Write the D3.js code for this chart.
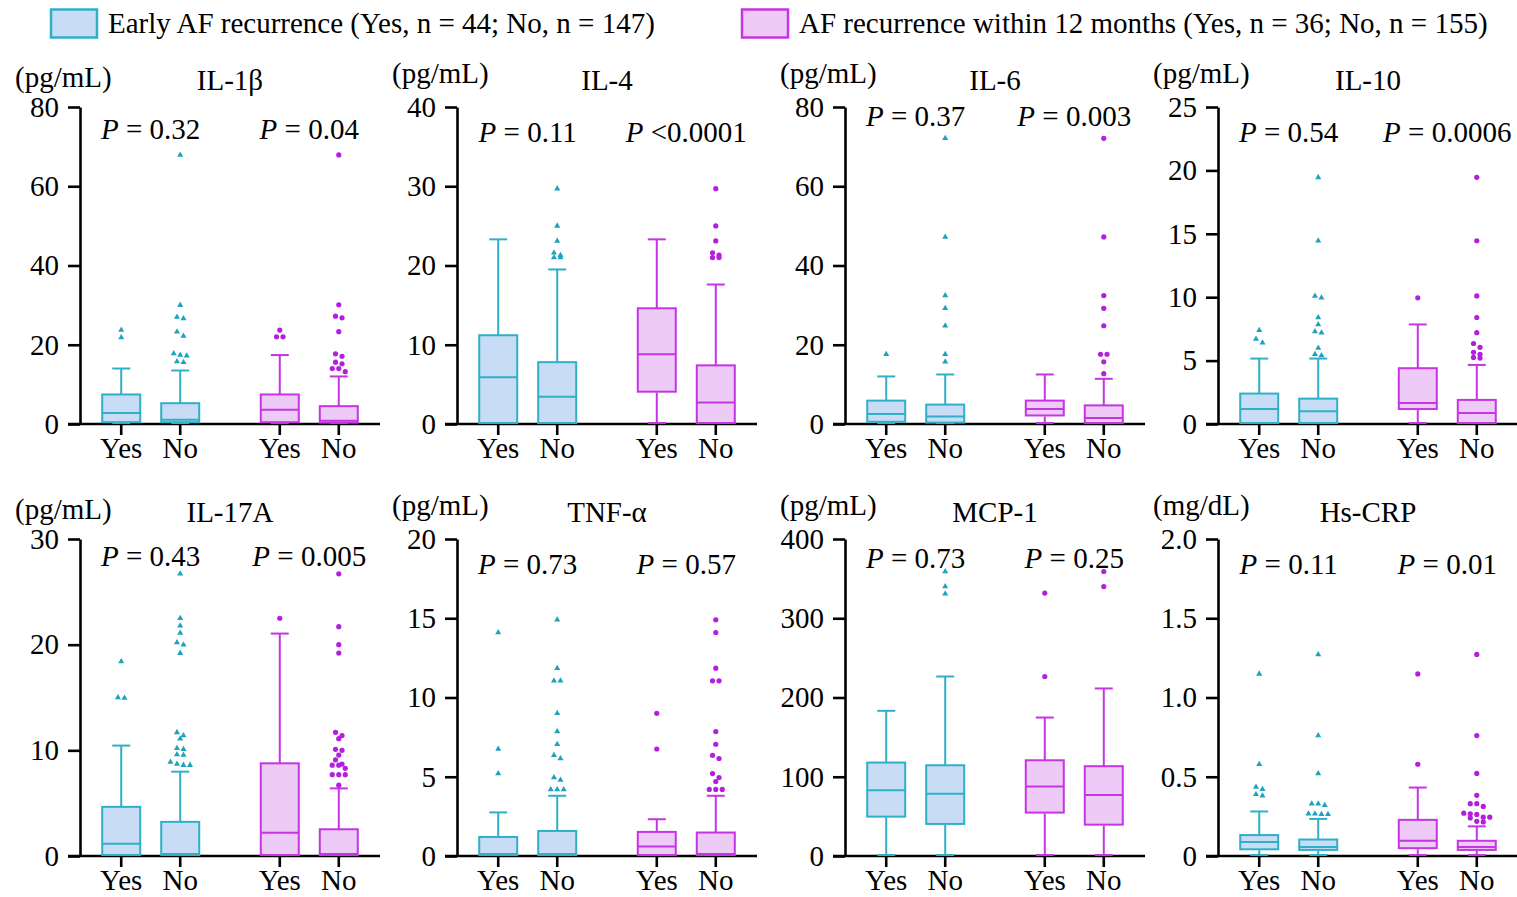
<!DOCTYPE html>
<html>
<head>
<meta charset="utf-8">
<script src="https://cdn.jsdelivr.net/npm/d3@7"></script>
<style>
  body { margin: 0; background: #fff; }
  text { font-family: "Liberation Serif", "Times New Roman", serif; fill: #000; }
</style>
</head>
<body>
<svg id="chart" width="1517" height="897"></svg>
<script>
// panel names, units and y ranges
var panelNames = ["IL-1β", "IL-4", "IL-6", "IL-10", "IL-17A", "TNF-α", "MCP-1", "Hs-CRP"];
var panelUnits = ["(pg/mL)", "(pg/mL)", "(pg/mL)", "(pg/mL)", "(pg/mL)", "(pg/mL)", "(pg/mL)", "(mg/dL)"];
var yMaxes = [80, 40, 80, 25, 30, 20, 400, 2.0];
var yTickSteps = [20, 10, 20, 5, 10, 5, 100, 0.5];
var groupLabels = ["Yes", "No"];
var cohorts = ["early", "m12"];
var pEarly = ["0.32", "0.11", "0.37", "0.54", "0.43", "0.73", "0.73", "0.11"];
var p12m = ["0.04", "<0.0001", "0.003", "0.0006", "0.005", "0.57", "0.25", "0.01"];
var legendLabels = ["Early AF recurrence (Yes, n = 44; No, n = 147)",
                    "AF recurrence within 12 months (Yes, n = 36; No, n = 155)"];

// box stats: [low whisker, Q1, median, Q3, high whisker]
// order: early Yes, early No, 12 months Yes, 12 months No
var il1bBoxes = [[0, 0.2, 2.8, 7.45, 14.0], [0, 0.2, 1.1, 5.25, 13.5], [0, 0.2, 3.6, 7.45, 17.4], [0, 0.1, 0.85, 4.5, 12.0]];
var il1bOutliers = [[23.7, 21.8],
  [67.9, 30.0, 27.0, 26.6, 23.3, 22.2, 17.8, 17.4, 17.2, 15.8, 15.6],
  [23.7, 22.0, 22.0],
  [67.9, 30.1, 27.2, 26.8, 23.3, 17.7, 17.1, 15.6, 15.2, 14.0, 14.0, 13.2]];

var il4Boxes = [[0, 0, 5.9, 11.2, 23.3], [0, 0, 3.45, 7.8, 19.5], [0, 3.95, 8.8, 14.6, 23.3], [0, 0, 2.7, 7.4, 17.6]];
var il4Outliers = [[], [29.7, 25.0, 23.1, 21.6, 21.3, 21.0, 21.0], [], [29.7, 25.0, 23.1, 21.6, 21.3, 21.0, 21.0]];

var il6Boxes = [[0, 0.3, 2.5, 5.9, 12.0], [0, 0.1, 1.9, 4.9, 12.5], [0, 1.9, 3.8, 5.9, 12.5], [0, 0, 1.5, 4.7, 11.4]];
var il6Outliers = [[17.6], [72.1, 47.2, 32.4, 29.2, 24.8, 17.6, 15.7], [],
  [72.1, 47.2, 32.4, 29.2, 24.8, 17.6, 17.6, 15.7, 12.7]];

var il10Boxes = [[0, 0, 1.18, 2.4, 5.16], [0, 0, 1.0, 2.0, 5.16], [0, 1.1, 1.65, 4.4, 7.85], [0, 0, 0.86, 1.9, 4.66]];
var il10Outliers = [[7.4, 6.7, 6.4],
  [19.45, 14.45, 10.1, 9.95, 8.4, 7.85, 7.3, 7.2, 6.0, 5.5, 5.4],
  [9.95],
  [19.45, 14.45, 10.1, 8.4, 7.2, 6.35, 6.05, 5.65, 5.5, 5.25, 5.2]];

var il17aBoxes = [[0, 0, 1.17, 4.65, 10.45], [0, 0, 0.05, 3.23, 7.98], [0, 0, 2.2, 8.77, 21.05], [0, 0, 0.05, 2.53, 6.4]];
var il17aOutliers = [[18.4, 15.0, 14.95],
  [26.7, 22.5, 21.8, 21.1, 20.2, 20.0, 19.2, 11.7, 11.4, 11.1, 10.2, 10.1, 9.6, 9.55, 8.9, 8.7, 8.6, 8.6],
  [22.5],
  [26.7, 21.7, 20.0, 19.2, 11.7, 11.4, 11.1, 10.1, 10.0, 9.55, 9.1, 8.7, 8.6, 8.6, 8.3, 7.7, 7.7, 7.7, 6.7]];

var tnfBoxes = [[0, 0, 0.02, 1.2, 2.75], [0, 0, 0.02, 1.58, 3.8], [0, 0, 0.6, 1.52, 2.32], [0, 0, 0.02, 1.48, 3.8]];
var tnfOutliers = [[14.1, 6.75, 5.2],
  [14.9, 11.85, 11.05, 11.05, 9.0, 7.85, 7.05, 6.35, 6.15, 4.95, 4.8, 4.2, 4.2, 4.2],
  [9.0, 6.75],
  [14.9, 14.1, 11.85, 11.05, 11.05, 7.85, 7.05, 6.35, 6.15, 5.2, 4.95, 4.7, 4.2, 4.2, 4.2]];

var mcpBoxes = [[0, 48.4, 82.9, 117.9, 183.2], [0, 39.2, 78.7, 114.5, 226.5], [0, 53.5, 87.6, 120.8, 174.7], [0, 38.3, 77.1, 113.3, 211.4]];
var mcpOutliers = [[], [359, 340, 331], [331.8, 226.5], [359, 340]];

var crpBoxes = [[0, 0.036, 0.089, 0.132, 0.281], [0, 0.032, 0.057, 0.104, 0.234], [0, 0.043, 0.096, 0.228, 0.432], [0, 0.032, 0.057, 0.096, 0.187]];
var crpOutliers = [[1.149, 0.579, 0.436, 0.421, 0.389, 0.38],
  [1.272, 0.76, 0.521, 0.33, 0.33, 0.32, 0.266, 0.266, 0.264, 0.264],
  [1.149, 0.579],
  [1.272, 0.76, 0.521, 0.383, 0.33, 0.33, 0.313, 0.27, 0.266, 0.262, 0.245, 0.245, 0.24, 0.219, 0.215]];

var allBoxes = [il1bBoxes, il4Boxes, il6Boxes, il10Boxes, il17aBoxes, tnfBoxes, mcpBoxes, crpBoxes];
var allOutliers = [il1bOutliers, il4Outliers, il6Outliers, il10Outliers, il17aOutliers, tnfOutliers, mcpOutliers, crpOutliers];

// layout
var axisXs = [80, 457, 845, 1218];
var rowTops = [107, 539];
var plotH = 317;
var plotW = 300;
var pLabelFrac = [0.9, 0.89, 0.94, 0.89, 0.915, 0.89, 0.91, 0.89];
var fontSize = "29px";

var colors = {
  early: { stroke: "#2fb0c6", fill: "#c8dcf6", mark: "#1fa2bd" },
  m12: { stroke: "#c535e3", fill: "#eecaf6", mark: "#b51ede" }
};

var svg = d3.select("#chart");
svg.append("rect").attr("width", 1517).attr("height", 897).attr("fill", "#fff");

// legend
var legendX = [51, 742];
cohorts.forEach(function(c, i) {
  svg.append("rect")
    .attr("x", legendX[i]).attr("y", 9.5)
    .attr("width", 46).attr("height", 28)
    .attr("fill", colors[c].fill)
    .attr("stroke", colors[c].stroke)
    .attr("stroke-width", 2.5);
  svg.append("text")
    .attr("x", legendX[i] + 57).attr("y", 33)
    .style("font-size", fontSize)
    .text(legendLabels[i]);
});

// x scales shared by all panels (relative to the y axis)
var xOuter = d3.scalePoint().domain(cohorts).range([0, plotW]).padding(0.446);
var xInner = d3.scalePoint().domain(groupLabels).range([-29.5, 29.5]);
var boxW = 38, capW = 18;

panelNames.forEach(function(name, p) {
  var ax = axisXs[p % 4];
  var top = rowTops[Math.floor(p / 4)];
  var zero = top + plotH;
  var g = svg.append("g").attr("transform", "translate(" + ax + ",0)");

  var y = d3.scaleLinear().domain([0, yMaxes[p]]).range([zero, top]);
  var ticks = d3.range(0, yMaxes[p] + yTickSteps[p] / 2, yTickSteps[p]);
  var fmt = yMaxes[p] < 5 ? function(d) { return d === 0 ? "0" : d3.format(".1f")(d); } : d3.format("d");

  // y axis
  var yAxis = g.append("g")
    .call(d3.axisLeft(y).tickValues(ticks).tickFormat(fmt).tickSize(12).tickSizeOuter(0).tickPadding(9));
  yAxis.select(".domain").attr("stroke", "#000").attr("stroke-width", 2.6);
  yAxis.selectAll(".tick line").attr("stroke", "#000").attr("stroke-width", 2.6);
  yAxis.selectAll(".tick text").style("font-size", fontSize).attr("fill", "#000")
    .style("font-family", '"Liberation Serif", serif');

  // x axis line and ticks
  g.append("line")
    .attr("x1", -12).attr("x2", plotW)
    .attr("y1", zero).attr("y2", zero)
    .attr("stroke", "#000").attr("stroke-width", 2.6);

  cohorts.forEach(function(c, ci) {
    groupLabels.forEach(function(lab, li) {
      var cx = xOuter(c) + xInner(lab);
      var s = allBoxes[p][ci * 2 + li];
      var col = colors[c];
      var bg = g.append("g");

      // whiskers
      bg.append("line").attr("x1", cx).attr("x2", cx).attr("y1", y(s[3])).attr("y2", y(s[4]))
        .attr("stroke", col.stroke).attr("stroke-width", 2);
      bg.append("line").attr("x1", cx - capW / 2).attr("x2", cx + capW / 2).attr("y1", y(s[4])).attr("y2", y(s[4]))
        .attr("stroke", col.stroke).attr("stroke-width", 2);
      bg.append("line").attr("x1", cx).attr("x2", cx).attr("y1", y(s[1])).attr("y2", y(s[0]))
        .attr("stroke", col.stroke).attr("stroke-width", 2);
      bg.append("line").attr("x1", cx - capW / 2).attr("x2", cx + capW / 2).attr("y1", y(s[0]) - 1).attr("y2", y(s[0]) - 1)
        .attr("stroke", col.stroke).attr("stroke-width", 2);

      // box
      bg.append("rect")
        .attr("x", cx - boxW / 2).attr("width", boxW)
        .attr("y", y(s[3])).attr("height", Math.max(0, y(s[1]) - y(s[3]) - 1))
        .attr("fill", col.fill).attr("stroke", col.stroke).attr("stroke-width", 2);
      bg.append("line").attr("x1", cx - boxW / 2).attr("x2", cx + boxW / 2)
        .attr("y1", Math.min(y(s[2]), zero - 2)).attr("y2", Math.min(y(s[2]), zero - 2))
        .attr("stroke", col.stroke).attr("stroke-width", 2);

      // outliers, spread sideways when they sit on the same level
      var pts = allOutliers[p][ci * 2 + li].slice().sort(d3.descending);
      var rows = [];
      pts.forEach(function(v) {
        var py = y(v);
        var last = rows[rows.length - 1];
        if (last && Math.abs(py - last.y) < 4.5) last.vals.push(v);
        else rows.push({ y: py, vals: [v] });
      });
      rows.forEach(function(r) {
        r.vals.forEach(function(v, k) {
          var ox = cx + (k - (r.vals.length - 1) / 2) * 6.5;
          if (c === "early") {
            bg.append("path")
              .attr("d", d3.symbol().type(d3.symbolTriangle).size(16)())
              .attr("transform", "translate(" + ox + "," + y(v) + ")")
              .attr("fill", col.mark);
          } else {
            bg.append("circle").attr("cx", ox).attr("cy", y(v)).attr("r", 2.6).attr("fill", col.mark);
          }
        });
      });

      // x tick and label
      g.append("line").attr("x1", cx).attr("x2", cx).attr("y1", zero).attr("y2", zero + 11)
        .attr("stroke", "#000").attr("stroke-width", 2.6);
      g.append("text").attr("x", cx).attr("y", zero + 34)
        .attr("text-anchor", "middle").style("font-size", fontSize).text(lab);
    });

    // P value label
    var pt = g.append("text")
      .attr("x", xOuter(c)).attr("y", zero - pLabelFrac[p] * plotH)
      .attr("text-anchor", "middle").style("font-size", fontSize);
    var pv = ci === 0 ? pEarly[p] : p12m[p];
    pt.append("tspan").style("font-style", "italic").text("P");
    pt.append("tspan").text(pv.charAt(0) === "<" ? " " + pv : " = " + pv);
  });

  // title and unit
  g.append("text").attr("x", 150).attr("y", top - 17)
    .attr("text-anchor", "middle").style("font-size", fontSize).text(name);
  g.append("text").attr("x", -65).attr("y", top - (p % 4 === 0 ? 20 : 24))
    .style("font-size", fontSize).text(panelUnits[p]);
});
</script>
</body>
</html>
